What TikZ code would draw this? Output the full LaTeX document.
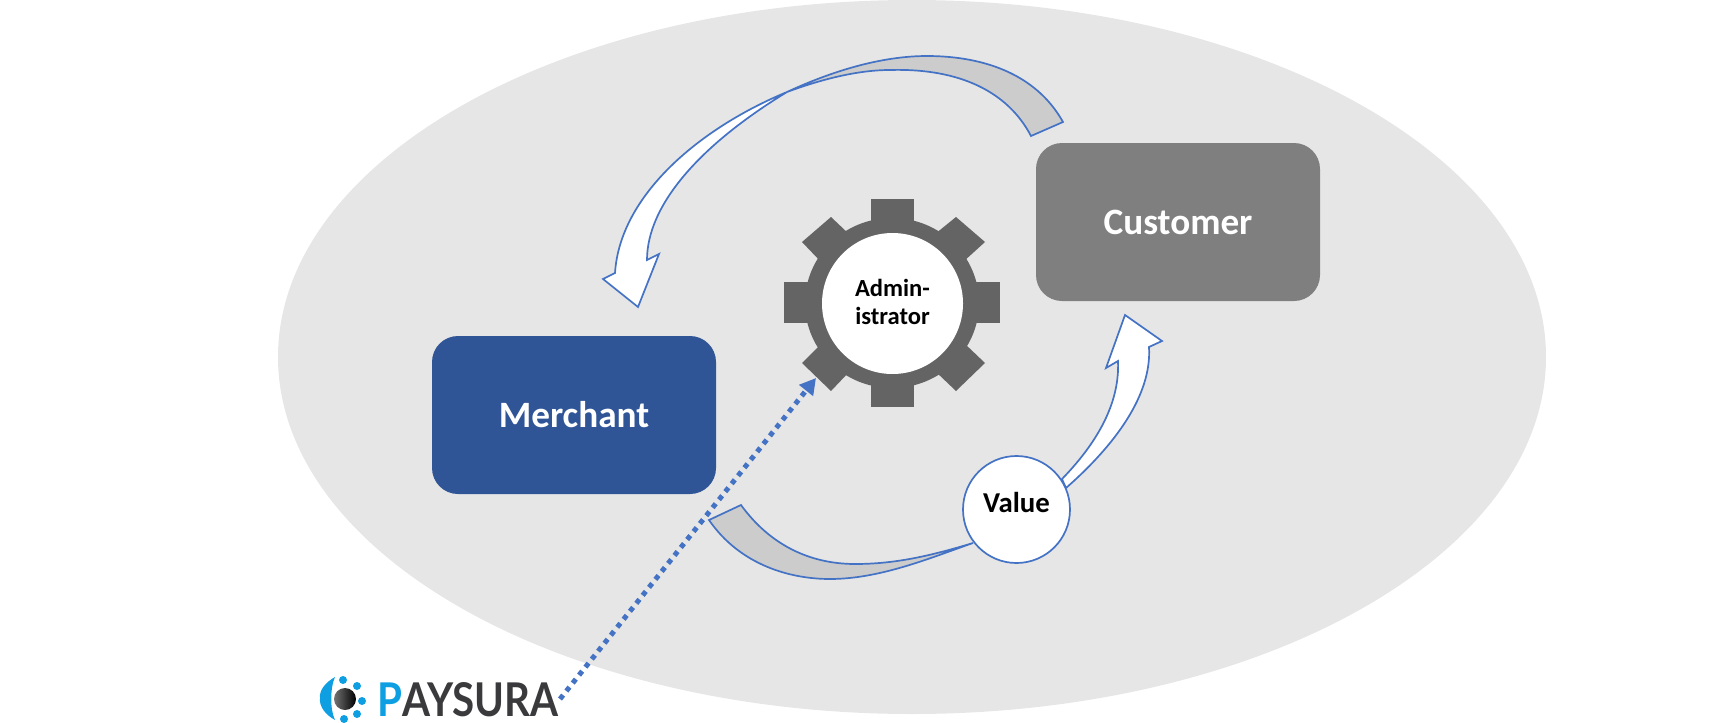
\documentclass[tikz,border=0pt]{standalone}
\usepackage{fontspec}
\usepackage{graphicx}
\setmainfont{Carlito}
\newfontfamily\logofont{Lato}
\usetikzlibrary{shapes.geometric,arrows.meta}
\definecolor{fieldgray}{HTML}{E6E6E6}
\definecolor{arrowblue}{HTML}{4472C4}
\definecolor{tailgray}{HTML}{CCCCCC}
\definecolor{custgray}{HTML}{7F7F7F}
\definecolor{merchblue}{HTML}{2F5597}
\definecolor{geargray}{HTML}{646464}
\definecolor{logoblue}{HTML}{0E9FE2}
\definecolor{logodark}{HTML}{3A3A3C}
\tikzset{
  partybox/.style={rectangle,rounded corners=13pt,inner sep=0pt,minimum width=142pt,minimum height=79pt,font=\fontsize{18.6}{22}\selectfont\bfseries,text=white,text height=12pt,text depth=0pt},
  arrowpart/.style={draw=arrowblue,line width=0.85pt,line join=miter},
  dotline/.style={draw=arrowblue,line width=2.5pt,dash pattern=on 2.5pt off 2.6pt,-{Triangle[length=8pt,width=8.5pt]}},
  logodot/.style={fill=logoblue}
}
\begin{document}
\begin{tikzpicture}[x=0.5pt,y=-0.5pt]
\useasboundingbox (0,0) rectangle (1725,723);
\node[ellipse,fill=fieldgray,inner sep=0pt,minimum width=634pt,minimum height=357pt] (field) at (912,357) {};
\node[partybox,fill=merchblue] (merchant) at (574,415) {Merchant};
\node[partybox,fill=custgray] (customer) at (1178,222) {Customer};
% gear
\begin{scope}[shift={(892,303)}]
\fill[geargray] (0,0) circle[x radius=87,y radius=85];
\fill[geargray] (-21,-80) -- (-21,-104) -- (22,-104) -- (22,-80) -- cycle;
\fill[geargray] (-21,80) -- (-21,104) -- (22,104) -- (22,80) -- cycle;
\fill[geargray] (-80,-21) -- (-108,-21) -- (-108,20) -- (-80,20) -- cycle;
\fill[geargray] (80,-21) -- (108,-21) -- (108,20) -- (80,20) -- cycle;
\fill[geargray] (-70,-40) -- (-90,-61) -- (-61,-86) -- (-42,-68) -- cycle;
\fill[geargray] (71,-41) -- (93,-61) -- (64,-86) -- (43,-69) -- cycle;
\fill[geargray] (-70,40) -- (-90,60) -- (-61,88) -- (-42,68) -- cycle;
\fill[geargray] (72,40) -- (93,60) -- (64,88) -- (43,68) -- cycle;
\end{scope}
\node[circle,fill=white,inner sep=0pt,minimum size=70.5pt,align=center,font=\fontsize{12.3}{14}\selectfont\bfseries,text depth=1.5pt] (admin) at (892.5,303.5) {Admin-\\istrator};
% top arrow
\draw[arrowpart,fill=tailgray] (1063,122) .. controls (1035,72) and (980,56) .. (927,56) .. controls (880,56) and (830,72) .. (787,92) .. controls (825,78) and (860,70) .. (890,70) .. controls (960,68) and (1008,92) .. (1031,136) -- cycle;
\draw[arrowpart,fill=white] (787,92) .. controls (700,128) and (620,195) .. (615,273) -- (603,279) -- (638,307) -- (659,254) -- (647,260) .. controls (647,205) and (700,145) .. (787,92) -- cycle;
% bottom arrow
\draw[arrowpart,fill=tailgray] (709,520) .. controls (740,565) and (790,579) .. (830,579) .. controls (880,579) and (930,558) .. (973,543) .. controls (930,556) and (895,564) .. (855,564) .. controls (810,564) and (770,545) .. (741,505) -- cycle;
\draw[arrowpart,fill=white] (1062,479) .. controls (1095,445) and (1120,405) .. (1118,361) -- (1106,368) -- (1125,315) -- (1162,341) -- (1149,347) .. controls (1152,395) and (1115,445) .. (1066,488) -- cycle;
\node[circle,draw=arrowblue,line width=0.85pt,fill=white,inner sep=0pt,minimum size=53.5pt,font=\fontsize{14.4}{16}\selectfont\bfseries,text height=9pt,text depth=6.5pt] (value) at (1016.5,509.5) {Value};
% logo
\fill[logoblue] (335,677) .. controls (326,682) and (319,690) .. (320,698) .. controls (319,707) and (326,715) .. (335,720) .. controls (330,710) and (330,688) .. (335,677) -- cycle;
\shade[left color=black!55,right color=black] (345,699) circle[radius=11];
\foreach \dx/\dy in {343/680,357/686,362/701,357/714,344/719}{\fill[logodot] (\dx,\dy) circle[radius=4];}
\node[anchor=south west,inner sep=0pt] (logo) at (377,717) {\resizebox{90.5pt}{17pt}{\logofont\bfseries\textcolor{logoblue}{P}\textcolor{logodark}{AYSURA}}};
% dotted arrow
\coordinate (dotstart) at (560,699);
\coordinate (dotend) at (816,378);
\draw[dotline] (dotstart) -- (dotend);
\end{tikzpicture}
\end{document}
